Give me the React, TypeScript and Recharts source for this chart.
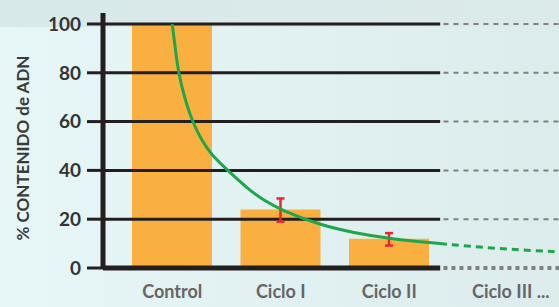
import React from "react";
import {
  ComposedChart,
  Bar,
  Line,
  XAxis,
  YAxis,
  ErrorBar,
  ReferenceLine,
  Label,
} from "recharts";

// categories and bar values
const categories = ["Control", "Ciclo I", "Ciclo II", "Ciclo III ..."];
const adnValues: (number | null)[] = [100, 24, 12, null];
const adnErrors: ([number, number] | null)[] = [null, [5, 4.5], [2.8, 2.3], null];

const yTicks = [0, 20, 40, 60, 80, 100];

// green fitted curve (x = category index)
const curveSolidX = [0, 0.019, 0.056, 0.111, 0.185, 0.275, 0.36, 0.511, 0.717, 0.839, 1.002, 1.362, 1.666, 2.018, 2.468];
const curveSolidY = [100, 93.4, 80, 70.2, 60, 52, 46.5, 40, 31.7, 27.9, 23.8, 17.6, 14.5, 11.9, 10.0];
const curveDashX = [2.468, 2.839, 3.207, 3.565];
const curveDashY = [10.0, 8.5, 7.4, 6.6];

const data = categories.map((name, i) => ({
  name,
  adn: adnValues[i],
  err: adnErrors[i] ?? undefined,
}));
const curveSolid = curveSolidX.map((x, i) => ({ x, v: curveSolidY[i] }));
const curveDash = curveDashX.map((x, i) => ({ x, v: curveDashY[i] }));

const X_MIN = -0.638;
const X_MAX = 3.565;
const SOLID_END = 2.47;
const DASH_START = 2.5;

const FONT = "Lato, 'Liberation Sans', sans-serif";

const XTick = (props: any) => {
  const { x, y, payload, index } = props;
  const shift = index === 3 ? 13 : 0;
  return (
    <text
      x={x + shift}
      y={y}
      dy={22}
      textAnchor="middle"
      fill="#666666"
      fontSize={18}
      fontWeight={700}
      fontFamily={FONT}
    >
      {payload.value}
    </text>
  );
};

const App: React.FC = () => {
  return (
    <div
      style={{
        position: "absolute",
        left: 0,
        top: 0,
        width: 559,
        height: 307,
        background: "linear-gradient(to right, #e7f6f6, #dcecec)",
      }}
    >
      <div
        style={{
          position: "absolute",
          left: 0,
          top: 0,
          width: 559,
          height: 27,
          background: "linear-gradient(to right, #d8e9e9, #dceaea)",
        }}
      />
      <ComposedChart
        width={559}
        height={307}
        data={data}
        margin={{ top: 13, right: 0, bottom: 0, left: 0 }}
        style={{ position: "absolute", left: 0, top: 0 }}
      >
        <XAxis
          xAxisId="cat"
          dataKey="name"
          padding={{ left: 15, right: 7 }}
          height={39}
          axisLine={false}
          tickLine={false}
          tick={<XTick />}
          interval={0}
        />
        <XAxis
          xAxisId="num"
          dataKey="x"
          type="number"
          domain={[X_MIN, X_MAX]}
          allowDataOverflow
          hide
        />
        <YAxis
          width={103}
          domain={[0, 104.5]}
          ticks={yTicks}
          interval={0}
          axisLine={{ stroke: "#231f20", strokeWidth: 5 }}
          tickLine={{ stroke: "#231f20", strokeWidth: 3 }}
          tickSize={16}
          tickMargin={6}
          tick={{ fill: "#333333", fontSize: 19, fontWeight: 700, fontFamily: FONT }}
        >
          <Label
            content={() => (
              <text
                x={22}
                y={148}
                transform="rotate(-90 22 148)"
                textAnchor="middle"
                dominantBaseline="central"
                fill="#3a3a3a"
                fontSize={17}
                fontWeight={700}
                fontFamily={FONT}
              >
                % CONTENIDO de ADN
              </text>
            )}
          />
        </YAxis>

        {yTicks
          .filter((t) => t > 0)
          .map((t) => (
            <ReferenceLine
              key={"g" + t}
              xAxisId="num"
              segment={[
                { x: X_MIN, y: t },
                { x: SOLID_END, y: t },
              ]}
              stroke="#231f20"
              strokeWidth={3}
            />
          ))}
        {yTicks
          .filter((t) => t > 0)
          .map((t) => (
            <ReferenceLine
              key={"d" + t}
              xAxisId="num"
              segment={[
                { x: DASH_START, y: t },
                { x: X_MAX, y: t },
              ]}
              stroke="#808080"
              strokeWidth={2}
              strokeDasharray="5 5"
            />
          ))}

        <Bar
          xAxisId="cat"
          dataKey="adn"
          fill="#fab041"
          barSize={80}
          isAnimationActive={false}
        >
          <ErrorBar dataKey="err" stroke="#e8262e" strokeWidth={2.5} width={4} />
        </Bar>

        <ReferenceLine
          xAxisId="num"
          segment={[
            { x: X_MIN, y: 0 },
            { x: SOLID_END, y: 0 },
          ]}
          stroke="#231f20"
          strokeWidth={5}
        />
        <ReferenceLine
          xAxisId="num"
          segment={[
            { x: DASH_START, y: 0 },
            { x: X_MAX, y: 0 },
          ]}
          stroke="#808080"
          strokeWidth={4}
          strokeDasharray="4 4"
        />

        <Line
          xAxisId="num"
          data={curveSolid}
          dataKey="v"
          type="basis"
          stroke="#1ea64a"
          strokeWidth={3}
          dot={false}
          activeDot={false}
          isAnimationActive={false}
        />
        <Line
          xAxisId="num"
          data={curveDash}
          dataKey="v"
          type="basis"
          stroke="#1ea64a"
          strokeWidth={3}
          strokeDasharray="7 5"
          dot={false}
          activeDot={false}
          isAnimationActive={false}
        />
      </ComposedChart>
    </div>
  );
};

export default App;
